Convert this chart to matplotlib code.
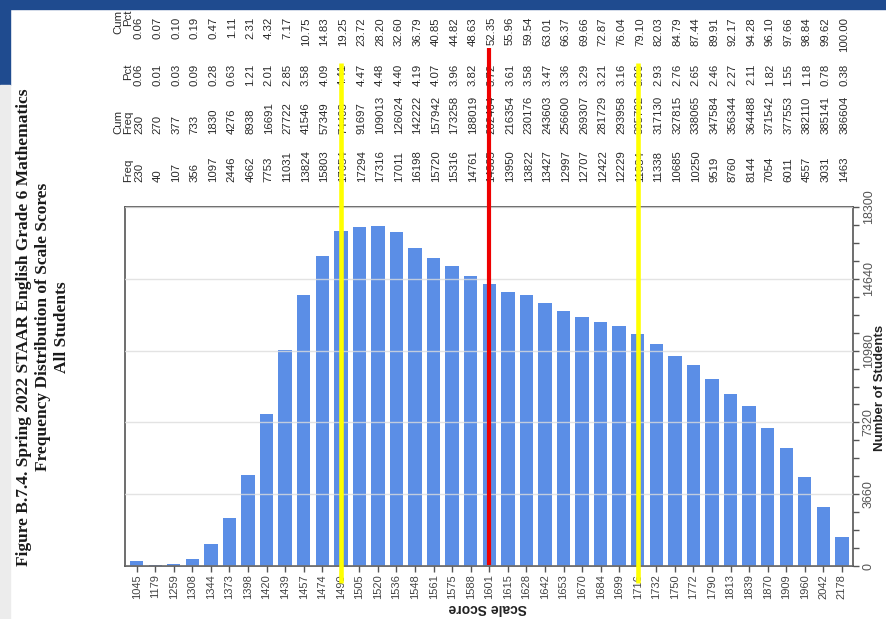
import matplotlib
matplotlib.use("Agg")
import matplotlib.pyplot as plt
from matplotlib.transforms import blended_transform_factory
from matplotlib.ticker import MultipleLocator
from matplotlib.patches import Rectangle

scores = [1045, 1179, 1259, 1308, 1344, 1373, 1398, 1420, 1439, 1457, 1474, 1490,
          1505, 1520, 1536, 1548, 1561, 1575, 1588, 1601, 1615, 1628, 1642, 1653,
          1670, 1684, 1699, 1716, 1732, 1750, 1772, 1790, 1813, 1839, 1870, 1909,
          1960, 2042, 2178]
freq = [230, 40, 107, 356, 1097, 2446, 4662, 7753, 11031, 13824, 15803, 17054,
        17294, 17316, 17011, 16198, 15720, 15316, 14761, 14385, 13950, 13822, 13427, 12997,
        12707, 12422, 12229, 11834, 11338, 10685, 10250, 9519, 8760, 8144, 7054, 6011,
        4557, 3031, 1463]
cum_freq = [230, 270, 377, 733, 1830, 4276, 8938, 16691, 27722, 41546, 57349, 74403,
            91697, 109013, 126024, 142222, 157942, 173258, 188019, 202404, 216354, 230176, 243603, 256600,
            269307, 281729, 293958, 305792, 317130, 327815, 338065, 347584, 356344, 364488, 371542, 377553,
            382110, 385141, 386604]
pct = ["0.06", "0.01", "0.03", "0.09", "0.28", "0.63", "1.21", "2.01", "2.85", "3.58", "4.09", "4.41",
       "4.47", "4.48", "4.40", "4.19", "4.07", "3.96", "3.82", "3.72", "3.61", "3.58", "3.47", "3.36",
       "3.29", "3.21", "3.16", "3.06", "2.93", "2.76", "2.65", "2.46", "2.27", "2.11", "1.82", "1.55",
       "1.18", "0.78", "0.38"]
cum_pct = ["0.06", "0.07", "0.10", "0.19", "0.47", "1.11", "2.31", "4.32", "7.17", "10.75", "14.83", "19.25",
           "23.72", "28.20", "32.60", "36.79", "40.85", "44.82", "48.63", "52.35", "55.96", "59.54", "63.01", "66.37",
           "69.66", "72.87", "76.04", "79.10", "82.03", "84.79", "87.44", "89.91", "92.17", "94.28", "96.10", "97.66",
           "98.84", "99.62", "100.00"]
y_ticks = [0, 3660, 7320, 10980, 14640, 18300]
red_marks = [1601]
yellow_marks = [1490, 1716]

title = ("Figure B.7.4. Spring 2022 STAAR English Grade 6 Mathematics\n"
         "Frequency Distribution of Scale Scores\nAll Students")

sans = "Liberation Sans"

W, H = 887, 619
fig = plt.figure(figsize=(W / 100, H / 100), dpi=100)
fig.patch.set_facecolor("white")

def fx(px):
    return px / W

def fy(py):
    return 1 - py / H

# page decorations
fig.patches.append(Rectangle((0, fy(9)), 1, 9 / H, transform=fig.transFigure,
                             color="#1f4b8f", zorder=0))
fig.patches.append(Rectangle((0, fy(85)), fx(10), 85 / H, transform=fig.transFigure,
                             color="#1f4b8f", zorder=0))
fig.patches.append(Rectangle((0, 0), fx(10), fy(85), transform=fig.transFigure,
                             color="#ececec", zorder=0))

ax = fig.add_axes([fx(125), fy(566), fx(853 - 125), (566 - 207) / H])
x = list(range(len(scores)))
ax.bar(x, freq, width=0.72, color="#5b8ee6", zorder=2)
ax.set_xlim(-0.63, 38.6)
ax.set_ylim(0, 18300)

ax.yaxis.tick_right()
ax.set_yticks(y_ticks)
ax.set_yticklabels([str(v) for v in y_ticks])
ax.yaxis.set_minor_locator(MultipleLocator(915))
ax.tick_params(axis="y", which="both", direction="out", length=4, width=1, color="#555555",
               labelrotation=90, labelsize=9, labelcolor="#555555", pad=3)
for lab in ax.get_yticklabels():
    lab.set_fontfamily(sans)
    lab.set_va("center")
ax.set_xticks(x)
ax.set_xticklabels([str(s) for s in scores], rotation=90, fontfamily=sans,
                   fontsize=8, color="#444444")
ax.tick_params(axis="x", direction="out", length=4, width=1, color="#555555", pad=2)
ax.grid(axis="y", color="#dcdcdc", lw=1, alpha=0.8, zorder=3)
ax.set_axisbelow(False)
for sp in ax.spines.values():
    sp.set_color("#555555")
    sp.set_linewidth(1.2)

tr = blended_transform_factory(ax.transData, fig.transFigure)
tcol = "#2a2a2a"
fs = 8.2
dx = 0.12
for i in x:
    ax.text(i + dx, fy(17), cum_pct[i], transform=tr, rotation=90, ha="center", va="top",
            fontsize=fs, fontfamily=sans, color=tcol, clip_on=False)
    ax.text(i + dx, fy(64), pct[i], transform=tr, rotation=90, ha="center", va="top",
            fontsize=fs, fontfamily=sans, color=tcol, clip_on=False)
    ax.text(i + dx, fy(134), str(cum_freq[i]), transform=tr, rotation=90, ha="center", va="bottom",
            fontsize=fs, fontfamily=sans, color=tcol, clip_on=False)
    ax.text(i + dx, fy(182), str(freq[i]), transform=tr, rotation=90, ha="center", va="bottom",
            fontsize=fs, fontfamily=sans, color=tcol, clip_on=False)

hx = -0.2
ax.text(hx, fy(10), "Cum\nPct", transform=tr, rotation=90, ha="right", va="top",
        multialignment="right", fontsize=fs, fontfamily=sans, color=tcol, linespacing=1.0)
ax.text(hx, fy(63), "Pct", transform=tr, rotation=90, ha="right", va="top",
        fontsize=fs, fontfamily=sans, color=tcol)
ax.text(hx, fy(134), "Cum\nFreq", transform=tr, rotation=90, ha="right", va="bottom",
        multialignment="left", fontsize=fs, fontfamily=sans, color=tcol, linespacing=1.0)
ax.text(hx, fy(182), "Freq", transform=tr, rotation=90, ha="right", va="bottom",
        fontsize=fs, fontfamily=sans, color=tcol)

# axis labels
fig.text(fx(488), fy(608), "Scale Score", rotation=180, ha="center", va="center",
         fontsize=10, fontweight="bold", fontfamily=sans, color="#222222")
fig.text(fx(880.5), fy(388), "Number of Students", rotation=90, ha="center", va="center",
         fontsize=9.5, fontweight="bold", fontfamily=sans, color="#222222")

# title
fig.text(fx(43), fy(327), title, rotation=90, ha="center", va="center", multialignment="center",
         fontsize=12.5, fontweight="bold", fontfamily="Liberation Serif", color="#1a1a1a",
         linespacing=1.22)

# highlight lines
for s in red_marks:
    i = scores.index(s)
    ax.plot([i, i], [fy(565), fy(48)], transform=tr, color="#ee0000", lw=3,
            clip_on=False, zorder=10, solid_capstyle="butt")
for s in yellow_marks:
    i = scores.index(s)
    ax.plot([i, i], [fy(583), fy(63)], transform=tr, color="#ffff00", lw=3.3,
            clip_on=False, zorder=10, solid_capstyle="butt")

fig.savefig("out.png", dpi=100)
